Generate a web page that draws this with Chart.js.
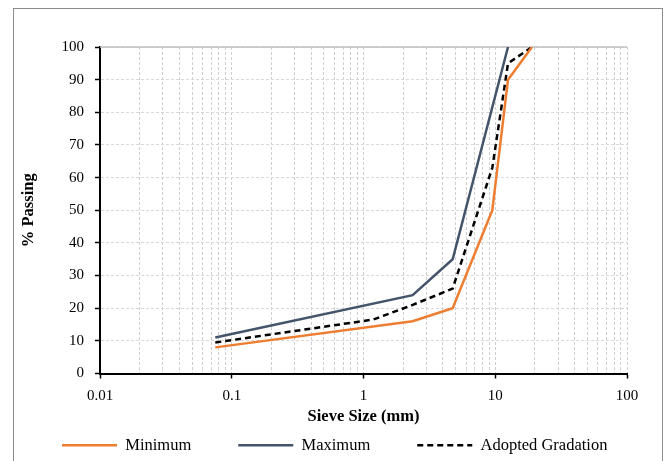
<!DOCTYPE html>
<html>
<head>
<meta charset="utf-8">
<script src="https://cdn.jsdelivr.net/npm/chart.js@4.4.1/dist/chart.umd.min.js"></script>
<style>
  html, body { margin: 0; padding: 0; background: #fff; }
  #wrap { width: 666px; height: 461px; }
</style>
</head>
<body>
<div id="wrap"><canvas id="chart" width="666" height="461"></canvas></div>
<script>
// Sieve sizes (mm) and % passing
const minSieves = [0.075, 2.36, 4.75, 9.5, 12.5, 19];
const minPassing = [8, 16, 20, 50, 90, 100];
const maxSieves = [0.075, 2.36, 4.75, 12.5];
const maxPassing = [11, 24, 35, 100];
const adoptedSieves = [0.075, 1.18, 2.36, 4.75, 9.5, 12.5, 19];
const adoptedPassing = [9.5, 16.5, 21, 26, 63, 95, 100];

// Axis ticks
const decadeTicks = [0.01, 0.1, 1, 10, 100];
const yTicks = [0, 10, 20, 30, 40, 50, 60, 70, 80, 90, 100];

const serif = "'Liberation Serif', 'Times New Roman', serif";

const toPoints = (xs, ys) => xs.map((x, i) => ({ x: x, y: ys[i] }));

const isDecade = v => Math.abs(Math.log10(v) - Math.round(Math.log10(v))) < 1e-9;

// All log grid positions: 1..9 x each decade
const logGrid = [];
decadeTicks.forEach((d, i) => {
  if (i === decadeTicks.length - 1) { logGrid.push(d); return; }
  for (let m = 1; m <= 9; m++) logGrid.push(d * m);
});

// Outer frame + solid top gridline
const framePlugin = {
  id: 'frame',
  beforeDraw(chart) {
    const ctx = chart.ctx;
    ctx.save();
    ctx.strokeStyle = '#8c8c8c';
    ctx.lineWidth = 1;
    ctx.strokeRect(13.5, 8.5, 649, 470);
    ctx.restore();
  },
  beforeDatasetsDraw(chart) {
    const { ctx, chartArea } = chart;
    ctx.save();
    ctx.strokeStyle = '#bfbfbf';
    ctx.lineWidth = 1.5;
    ctx.beginPath();
    ctx.moveTo(chartArea.left, chartArea.top);
    ctx.lineTo(chartArea.right, chartArea.top);
    ctx.stroke();
    ctx.restore();
  },
  afterLayout(chart) {
    // pull the legend up under the axis title
    const lg = chart.legend;
    const h = lg.bottom - lg.top;
    lg.top = 390;
    lg.bottom = 390 + h;
  }
};

new Chart(document.getElementById('chart'), {
  type: 'scatter',
  data: {
    datasets: [
      {
        label: 'Minimum',
        data: toPoints(minSieves, minPassing),
        showLine: true,
        borderColor: '#ED7D31',
        backgroundColor: '#ED7D31',
        borderWidth: 2.5,
        pointRadius: 0,
        pointStyle: 'line',
        tension: 0
      },
      {
        label: 'Maximum',
        data: toPoints(maxSieves, maxPassing),
        showLine: true,
        borderColor: '#44546A',
        backgroundColor: '#44546A',
        borderWidth: 2.5,
        pointRadius: 0,
        pointStyle: 'line',
        tension: 0
      },
      {
        label: 'Adopted Gradation',
        data: toPoints(adoptedSieves, adoptedPassing),
        showLine: true,
        borderColor: '#000000',
        backgroundColor: '#000000',
        borderWidth: 2.5,
        borderDash: [6, 4],
        pointRadius: 0,
        pointStyle: 'line',
        tension: 0
      }
    ]
  },
  options: {
    responsive: false,
    animation: false,
    layout: { padding: { left: 15, right: 0, top: 47, bottom: -43 } },
    plugins: {
      legend: {
        position: 'bottom',
        align: 'start',
        labels: {
          usePointStyle: true,
          pointStyleWidth: 55,
          padding: 47,
          color: '#000',
          font: { family: serif, size: 16.5 },
          // keep the dash pattern in the legend sample
          generateLabels: chart => Chart.defaults.plugins.legend.labels.generateLabels(chart).map(item => {
            const ds = chart.data.datasets[item.datasetIndex];
            item.lineDash = ds.borderDash || [];
            item.lineWidth = 2.5;
            return item;
          })
        }
      },
      tooltip: { enabled: false }
    },
    scales: {
      x: {
        type: 'logarithmic',
        min: 0.01,
        max: 100,
        afterBuildTicks: s => { s.ticks = logGrid.map(v => ({ value: v })); },
        afterFit: s => { s.height = 57; },
        ticks: {
          autoSkip: false,
          maxRotation: 0,
          padding: 9,
          color: '#000',
          font: { family: serif, size: 15 },
          callback: v => isDecade(v) ? String(Number(v.toPrecision(3))) : ''
        },
        grid: {
          color: '#cfcfcf',
          lineWidth: 1,
          tickLength: 5,
          tickColor: c => isDecade(c.tick.value) ? '#000' : 'rgba(0,0,0,0)',
          tickWidth: 1.5
        },
        border: { color: '#000', width: 2, dash: [3, 2] },
        title: {
          display: true,
          text: 'Sieve Size (mm)',
          color: '#000',
          font: { family: serif, size: 16.5, weight: 'bold' }
        }
      },
      y: {
        min: 0,
        max: 100,
        afterBuildTicks: s => { s.ticks = yTicks.map(v => ({ value: v })); },
        afterFit: s => { s.width = 85; },
        ticks: {
          padding: 11,
          color: '#000',
          font: { family: serif, size: 15 }
        },
        grid: {
          color: '#d9d9d9',
          lineWidth: 1,
          tickLength: 5,
          tickColor: '#000',
          tickWidth: 1.5
        },
        border: { color: '#000', width: 2, dash: [3, 2] },
        title: {
          display: true,
          text: '% Passing',
          color: '#000',
          padding: { top: 4, bottom: 4 },
          font: { family: serif, size: 16.5, weight: 'bold' }
        }
      },
      // empty right gutter so the plot ends at the same place as the reference
      gutter: {
        type: 'linear',
        position: 'right',
        afterFit: s => { s.width = 39; },
        ticks: { display: false },
        grid: { display: false },
        border: { display: false }
      }
    }
  },
  plugins: [framePlugin]
});
</script>
</body>
</html>
